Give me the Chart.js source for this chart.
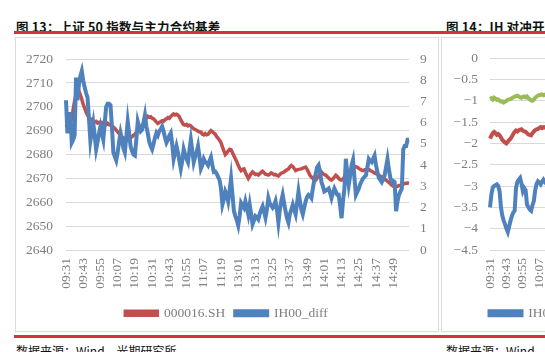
<!DOCTYPE html>
<html>
<head>
<meta charset="utf-8">
<script src="https://cdn.jsdelivr.net/npm/chart.js@4.4.1/dist/chart.umd.min.js"></script>
<style>
  html, body { margin:0; padding:0; background:#fff; }
  body { width:545px; height:352px; overflow:hidden; position:relative; }
  .title { position:absolute; top:17px; font-family:"Noto Sans CJK SC", sans-serif; font-weight:700; font-size:12.5px; color:#111; white-space:nowrap; letter-spacing:0.2px; }
  .bar { position:absolute; left:14px; width:540px; height:3px; background:#d2323b; }
  .box { position:absolute; top:37px; height:295px; border:1px solid #dadada; box-sizing:border-box; }
  .foot { position:absolute; top:342px; font-family:"Noto Sans CJK SC", sans-serif; font-size:12px; color:#111; white-space:nowrap; }
  canvas { position:absolute; }
</style>
</head>
<body>
<div class="title" style="left:16px;">图 13：上证 50 指数与主力合约基差</div>
<div class="title" style="left:446px;">图 14：IH 对冲开仓成本</div>
<div class="bar" style="top:31px;"></div>
<div class="box" style="left:15px; width:424px;"></div>
<div class="box" style="left:441px; width:200px;"></div>
<div class="bar" style="top:335px;"></div>
<div class="foot" style="left:16px;">数据来源：Wind，光期研究所</div>
<div class="foot" style="left:446px;">数据来源：Wind，光期研究所</div>
<canvas id="c1" width="421" height="294" style="left:16px; top:38px;"></canvas>
<canvas id="c2" width="460" height="294" style="left:442px; top:38px;"></canvas>
<script>
// ---- categories (trading minutes) ----
const categories = [];
function pad2(n){ return String(n).padStart(2,'0'); }
for (let m = 9*60+31; m <= 11*60+30; m++) categories.push(pad2(Math.floor(m/60)) + ':' + pad2(m%60));
for (let m = 13*60+1; m <= 15*60; m++) categories.push(pad2(Math.floor(m/60)) + ':' + pad2(m%60));

const xTickLabels = ['09:31','09:43','09:55','10:07','10:19','10:31','10:43','10:55','11:07','11:19',
  '13:01','13:13','13:25','13:37','13:49','14:01','14:13','14:25','14:37','14:49'];

const leftTicks = [2640,2650,2660,2670,2680,2690,2700,2710,2720];
const rightTicks = [0,1,2,3,4,5,6,7,8,9];
const fig14Ticks = [0,-0.5,-1,-1.5,-2,-2.5,-3,-3.5,-4,-4.5];

// ---- 000016.SH (left axis) ----
const sh50 = [
2692.5,2691.8,2692.2,2693.5,2695.0,2699.0,2702.5,2705.0,2707.5,2706.5,
2705.0,2703.2,2701.0,2699.5,2697.8,2696.5,2695.6,2694.5,2694.8,2694.0,
2693.6,2693.9,2693.2,2693.5,2693.0,2693.4,2692.8,2693.0,2692.6,2693.1,
2692.5,2692.4,2691.8,2691.5,2691.0,2690.2,2689.5,2688.8,2688.0,2687.4,
2687.0,2686.5,2686.2,2686.0,2686.6,2687.2,2687.5,2688.0,2688.6,2689.3,
2690.0,2690.6,2691.0,2692.2,2693.0,2694.0,2695.2,2696.0,2695.6,2695.8,
2695.2,2695.0,2694.3,2693.6,2693.0,2693.4,2693.8,2694.2,2694.0,2694.6,
2695.0,2695.5,2695.2,2696.0,2696.5,2697.0,2696.6,2696.9,2696.5,2695.8,
2694.5,2693.4,2692.5,2692.3,2692.6,2692.0,2692.3,2692.0,2691.3,2690.8,
2690.5,2690.2,2689.8,2689.5,2689.5,2688.5,2688.2,2688.8,2688.3,2688.5,
2689.3,2690.0,2689.6,2689.0,2688.5,2687.5,2686.8,2686.0,2685.0,2683.2,
2681.5,2680.0,2680.6,2681.5,2682.2,2682.0,2680.8,2679.5,2678.2,2677.0,
2675.5,2674.2,2673.3,2673.8,2674.0,2672.5,2671.2,2670.0,2671.0,2672.0,
2672.7,2672.2,2671.6,2671.8,2671.4,2672.0,2672.6,2673.0,2672.4,2671.8,
2671.6,2671.4,2671.8,2672.3,2672.0,2671.5,2671.7,2671.2,2671.0,2671.6,
2672.2,2672.4,2672.7,2673.2,2673.6,2674.0,2674.8,2675.4,2675.0,2674.2,
2673.3,2673.6,2673.8,2673.9,2674.0,2674.3,2674.5,2674.7,2673.8,2672.6,
2671.3,2670.6,2670.0,2669.6,2669.3,2670.2,2671.0,2672.0,2672.7,2672.0,
2671.6,2671.3,2670.8,2670.2,2669.6,2669.3,2669.8,2670.6,2671.3,2670.8,
2670.0,2669.5,2669.3,2669.8,2670.5,2671.3,2672.0,2672.8,2673.5,2674.2,
2674.7,2674.5,2674.9,2674.7,2674.2,2673.8,2673.5,2673.3,2673.6,2673.8,
2674.0,2673.7,2673.3,2673.0,2672.7,2672.3,2672.0,2671.6,2671.3,2671.0,
2670.5,2670.0,2669.6,2669.3,2668.8,2668.3,2667.8,2667.2,2666.8,2666.6,
2666.5,2666.7,2667.0,2667.0,2667.2,2667.6,2667.9,2668.0,2668.1,2668.0
];

// ---- IH00_diff (right axis) ----
const ih00Diff = [
7.06,5.5,6.0,6.5,5.06,5.2,5.4,8.13,7.06,7.8,
8.2,8.44,8.0,7.67,7.4,7.2,6.2,5.14,5.6,6.0,
5.4,4.75,5.1,5.5,5.83,5.5,5.2,6.0,6.75,6.9,
6.9,6.83,5.8,4.6,4.4,4.22,4.6,5.1,5.52,5.2,
4.8,4.6,5.3,6.06,5.5,4.9,4.68,4.5,4.45,5.2,
6.06,5.8,5.6,5.67,6.0,6.36,5.83,5.5,5.1,4.9,
4.75,5.0,5.3,5.52,5.4,5.6,5.7,5.83,5.6,5.3,
5.06,5.2,5.4,5.52,5.0,4.29,4.6,4.9,4.6,4.2,
3.83,4.2,4.75,4.5,4.3,4.14,4.7,5.2,4.7,4.14,
4.4,4.6,4.9,4.4,3.83,4.0,4.29,4.15,4.1,3.99,
4.2,4.37,4.0,3.68,3.7,3.6,3.45,3.3,2.9,2.14,
2.4,2.76,2.6,2.3,2.8,3.37,2.6,1.83,1.6,1.4,
1.15,1.6,2.22,2.1,1.99,2.3,2.0,1.68,2.14,1.7,
1.22,1.4,1.6,1.55,1.45,1.7,1.9,2.06,1.8,1.52,
1.9,2.45,2.2,2.1,1.99,2.1,2.3,1.9,1.3,1.9,
2.3,2.6,2.2,1.83,1.5,1.29,1.7,1.9,2.14,1.9,
1.68,2.2,2.76,2.3,1.9,1.68,2.0,2.3,2.5,2.6,
2.55,2.45,2.9,3.3,3.6,3.9,4.0,3.7,3.2,3.0,
2.76,2.8,2.85,2.9,2.7,2.45,2.7,2.9,2.75,2.6,
2.6,2.1,1.5,2.3,2.9,4.3,3.6,3.06,3.5,4.0,
4.25,3.4,2.6,2.75,2.9,3.1,3.25,3.37,3.45,3.52,
3.9,4.29,4.2,4.14,4.3,4.45,4.0,3.68,3.4,3.3,
3.2,3.35,3.52,3.9,4.29,3.8,3.4,3.2,3.25,3.2,
1.83,2.3,2.6,2.75,2.9,4.75,4.9,4.9,5.2,5.2
];

// ---- Figure 14 (visible part) ----
const ih00Cost = [-3.5,-3.2,-3.04,-3.0,-2.98,-2.96,-3.0,-3.12,-3.5,-3.7,-3.81,-3.9,-4.0,-4.08,-3.95,-3.81,-3.7,-3.62,-3.58,-3.04,-2.9,-2.85,-2.81,-2.95,-3.12,-3.05,-3.1,-3.43,-3.5,-3.55,-3.58,-3.45,-3.35,-3.1,-2.95,-2.89,-2.92,-2.96,-2.9,-2.85,-2.9,-2.95];
const ih01Cost = [-1.89,-1.82,-1.76,-1.73,-1.76,-1.8,-1.78,-1.81,-1.86,-1.92,-1.95,-1.98,-2.0,-1.96,-1.92,-1.89,-1.84,-1.78,-1.73,-1.7,-1.72,-1.69,-1.68,-1.67,-1.7,-1.72,-1.73,-1.76,-1.79,-1.8,-1.81,-1.76,-1.72,-1.69,-1.67,-1.66,-1.64,-1.62,-1.64,-1.62,-1.63,-1.61];
const ih02Cost = [-0.96,-0.94,-0.97,-0.93,-0.95,-0.98,-0.97,-1.0,-1.02,-1.01,-1.04,-1.02,-1.0,-0.98,-0.97,-0.96,-0.94,-0.92,-0.9,-0.89,-0.88,-0.9,-0.92,-0.93,-0.91,-0.9,-0.92,-0.9,-0.94,-0.97,-0.99,-1.0,-0.97,-0.93,-0.9,-0.88,-0.87,-0.86,-0.85,-0.87,-0.86,-0.85];

const RED = '#C0504D', BLUE = '#4F81BD', GREEN = '#9BBB59';
const GRAY_TXT = '#7f7f7f', GRID = '#d9d9d9';
const serif = { family: '"Liberation Serif", "Times New Roman", serif', size: 13.5 };

function xScale() {
  return {
    grid: { display:false, drawTicks:false },
    border: { display:false },
    ticks: {
      autoSkip:false, maxRotation:90, minRotation:90, padding:8,
      font: serif, color: GRAY_TXT,
      callback: function(v){ const l = this.getLabelForValue(v); return xTickLabels.includes(l) ? l : ''; }
    },
    afterFit: s => { s.height = 46.5; }
  };
}

new Chart(document.getElementById('c1'), {
  type: 'line',
  data: {
    labels: categories,
    datasets: [
      { label:'000016.SH', data: sh50, yAxisID:'y', borderColor:RED, backgroundColor:RED, borderWidth:3.5, pointRadius:0, tension:0, order:1 },
      { label:'IH00_diff', data: ih00Diff, yAxisID:'y1', borderColor:BLUE, backgroundColor:BLUE, borderWidth:4, pointRadius:0, tension:0, order:0 }
    ]
  },
  options: {
    responsive:false, animation:false, devicePixelRatio:1,
    layout: { padding: { top:16.5, bottom:2, left:0, right:0 } },
    plugins: {
      legend: { position:'bottom', labels: { boxWidth:32, boxHeight:4, padding:10, font: serif, color: GRAY_TXT,
        sort: (a,b) => a.datasetIndex - b.datasetIndex } },
      tooltip: { enabled:false }
    },
    scales: {
      x: xScale(),
      y: { position:'left', min:2640, max:2720, afterBuildTicks: s => { s.ticks = leftTicks.map(v => ({value:v})); },
           grid:{ color:GRID, lineWidth:1, drawTicks:false }, border:{ display:false },
           ticks:{ padding:13, font: serif, color: GRAY_TXT, callback: v => String(v) }, afterFit: s => { s.width = 50; } },
      y1: { position:'right', min:0, max:9, afterBuildTicks: s => { s.ticks = rightTicks.map(v => ({value:v})); },
           grid:{ display:false, drawTicks:false }, border:{ display:false },
           ticks:{ padding:11, font: serif, color: GRAY_TXT, callback: v => String(v) }, afterFit: s => { s.width = 28; } }
    }
  }
});

new Chart(document.getElementById('c2'), {
  type: 'line',
  data: {
    labels: categories,
    datasets: [
      { label:'IH00_cost', data: ih00Cost, yAxisID:'y', borderColor:BLUE, backgroundColor:BLUE, borderWidth:4, pointRadius:0, tension:0 },
      { label:'IH01_cost', data: ih01Cost, yAxisID:'y', borderColor:RED, backgroundColor:RED, borderWidth:4, pointRadius:0, tension:0 },
      { label:'IH02_cost', data: ih02Cost, yAxisID:'y', borderColor:GREEN, backgroundColor:GREEN, borderWidth:4, pointRadius:0, tension:0 }
    ]
  },
  options: {
    responsive:false, animation:false, devicePixelRatio:1,
    layout: { padding: { top:16.5, bottom:2, left:0, right:60 } },
    plugins: {
      legend: { position:'bottom', labels: { boxWidth:32, boxHeight:4, padding:10, font: serif, color: GRAY_TXT } },
      tooltip: { enabled:false }
    },
    scales: {
      x: xScale(),
      y: { position:'left', min:-4.5, max:0, afterBuildTicks: s => { s.ticks = fig14Ticks.map(v => ({value:v})); },
           grid:{ color:GRID, lineWidth:1, drawTicks:false }, border:{ display:false },
           ticks:{ padding:12, font: serif, color: GRAY_TXT,
             callback: v => (v < 0 ? '\u2212' : '') + Math.abs(v) },
           afterFit: s => { s.width = 48; } },
      yr: { position:'right', min:-4.5, max:0, display:true,
           grid:{ display:false, drawTicks:false }, border:{ display:false },
           ticks:{ display:false }, afterFit: s => { s.width = 400 - 375.4; } }
    }
  }
});
</script>
</body>
</html>
